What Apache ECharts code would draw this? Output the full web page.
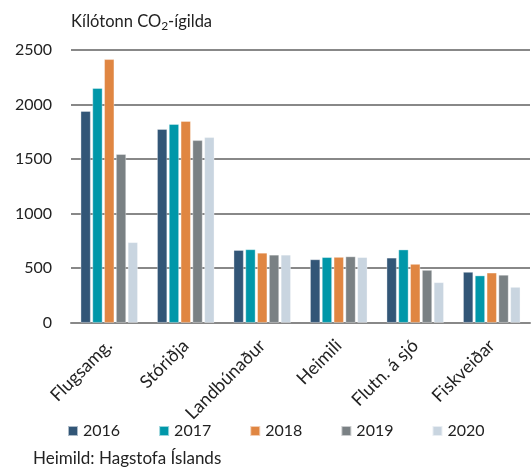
<!DOCTYPE html>
<html>
<head>
<meta charset="utf-8">
<script src="https://cdn.jsdelivr.net/npm/echarts@6/dist/echarts.min.js"></script>
<style>
html,body{margin:0;padding:0;background:#fff;}
#chart{width:532px;height:468px;}
</style>
</head>
<body>
<div id="chart"></div>
<script>
// flokkar og ár
var categories = ['Flugsamg.', 'Stóriðja', 'Landbúnaður', 'Heimili', 'Flutn. á sjó', 'Fiskveiðar'];
var years = ['2016', '2017', '2018', '2019', '2020'];
// gildi (kílótonn CO2-ígilda), eitt fylki fyrir hvert ár
var v2016 = [1940, 1775, 665, 580, 595, 465];
var v2017 = [2150, 1820, 672, 600, 670, 432];
var v2018 = [2415, 1848, 640, 602, 538, 458];
var v2019 = [1545, 1672, 622, 607, 483, 438];
var v2020 = [737, 1700, 622, 600, 370, 327];
var yTicks = [0, 500, 1000, 1500, 2000, 2500];

var colors = ['#325677', '#0097a9', '#e08642', '#7a8184', '#c9d5e0'];
var values = [v2016, v2017, v2018, v2019, v2020];

var chart = echarts.init(document.getElementById('chart'));
var font = 'Lato, "DejaVu Sans", sans-serif';

var series = [];
for (var i = 0; i < years.length; i++) {
	series.push({
		name: years[i],
		type: 'bar',
		data: values[i],
		barWidth: 10,
		barGap: '18%',
		itemStyle: {color: colors[i], borderColor: 'rgba(255,255,255,0.6)', borderWidth: 0.6}
	});
}

var option = {
	animation: false,
	color: colors,
	textStyle: {fontFamily: font},
	title: {
		left: 71,
		top: 12,
		padding: 0,
		text: '{a|Kílótonn CO}{s|2}{a|-ígilda}',
		textStyle: {
			fontWeight: 'normal',
			rich: {
				a: {fontFamily: font, fontSize: 16.5, fontWeight: 'normal', color: '#222', lineHeight: 20},
				s: {fontFamily: font, fontSize: 12, fontWeight: 'normal', color: '#222', lineHeight: 9, verticalAlign: 'bottom'}
			}
		}
	},
	grid: {left: 71, right: 2, top: 50, bottom: 145.3, containLabel: false},
	legend: {
		left: 67,
		top: 423,
		padding: 0,
		itemWidth: 10,
		itemHeight: 10,
		itemGap: 38,
		icon: 'rect',
		data: years,
		textStyle: {fontFamily: font, fontSize: 16, color: '#222'}
	},
	xAxis: {
		type: 'category',
		data: categories,
		axisLine: {lineStyle: {color: '#888', width: 2}},
		axisTick: {show: false},
		axisLabel: {rotate: 45, margin: 20, fontFamily: font, fontSize: 18, color: '#222', interval: 0}
	},
	yAxis: {
		type: 'value',
		min: 0,
		max: 2500,
		interval: 500,
		axisLine: {show: false},
		axisTick: {show: false},
		splitLine: {lineStyle: {color: '#888', width: 2}},
		axisLabel: {
			margin: 19, fontFamily: font, fontSize: 16, color: '#222',
			formatter: function (v) { return yTicks.indexOf(v) >= 0 ? String(v) : ''; }
		}
	},
	graphic: [{
		type: 'text',
		left: 33,
		top: 450,
		style: {text: 'Heimild: Hagstofa Íslands', fontFamily: font, fontSize: 17, fill: '#222'}
	}],
	series: series
};
chart.setOption(option);
</script>
</body>
</html>
